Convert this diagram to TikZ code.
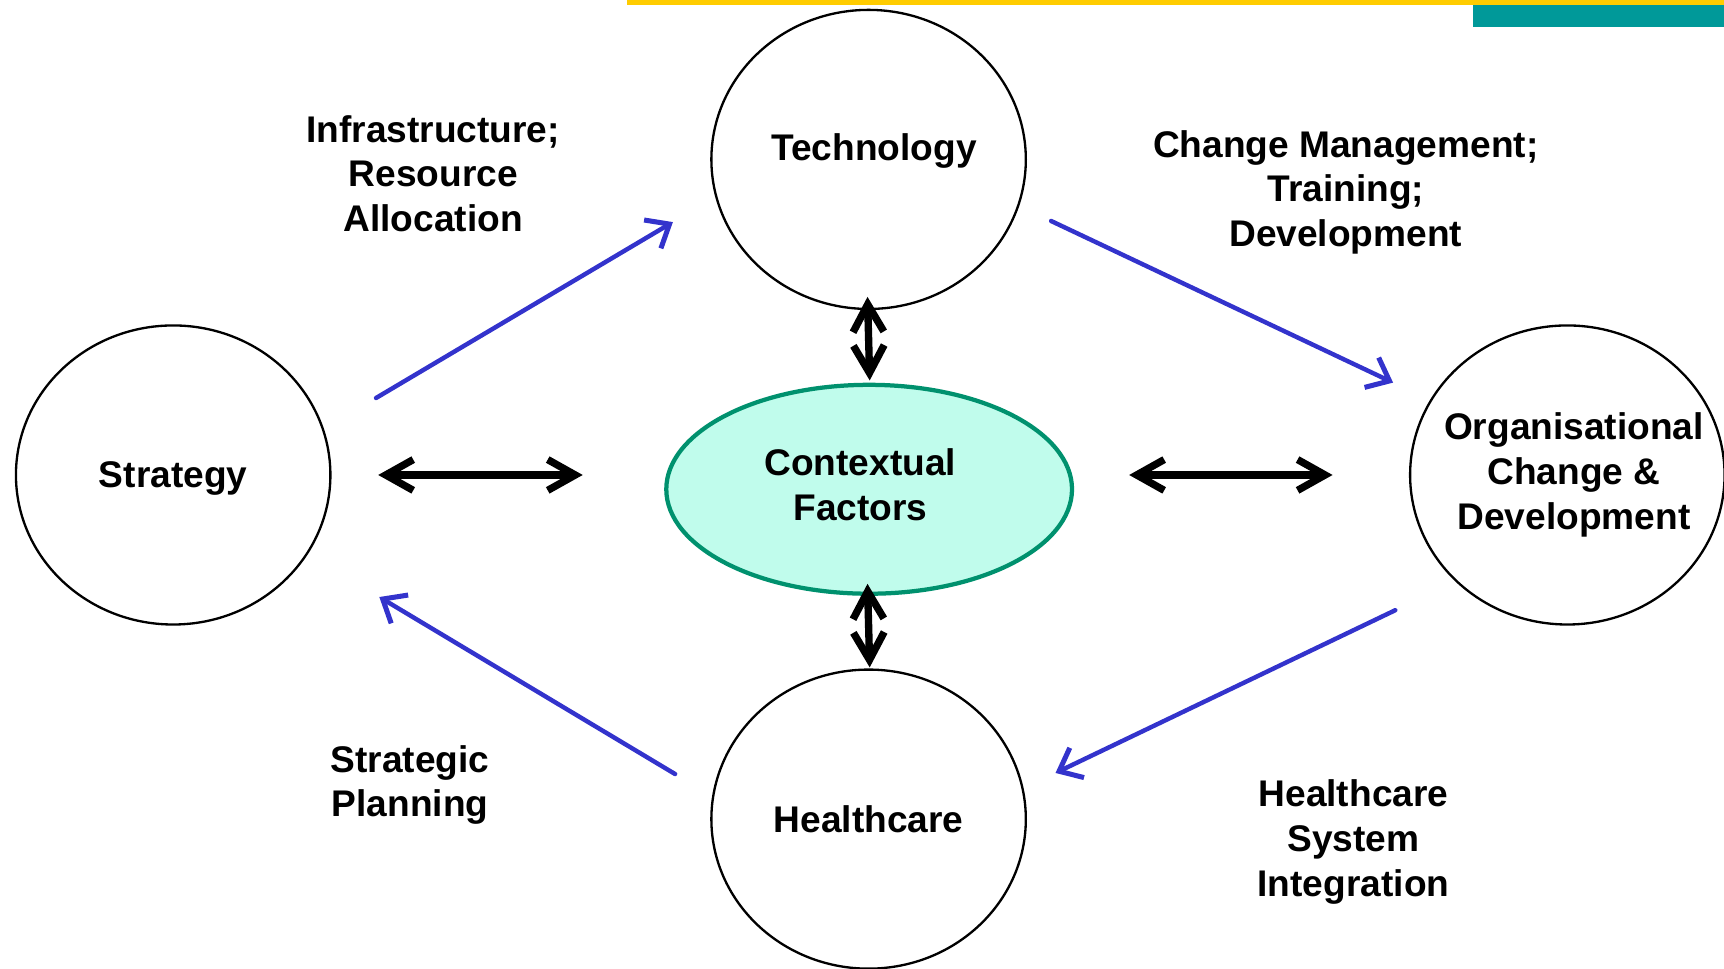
\documentclass[tikz,border=0pt]{standalone}
\usepackage{fontspec}
\setmainfont{Liberation Sans}
\usetikzlibrary{arrows.meta,shapes.geometric}

\definecolor{barYellow}{HTML}{FFCC00}
\definecolor{barTeal}{HTML}{009999}
\definecolor{flowBlue}{HTML}{3333CC}
\definecolor{ctxFill}{HTML}{C0FCEC}
\definecolor{ctxEdge}{HTML}{00916E}

\tikzset{
	txt/.style={align=center, font=\bfseries\fontsize{9.6}{11.6}\selectfont},
	area/.style={ellipse, draw=black, line width=0.6pt, inner sep=0pt, minimum width=2.86cm, minimum height=2.72cm},
	flow/.style={draw=flowBlue, line width=1.15pt, line cap=round, -{Straight Barb[length=1.8mm, width=3.0mm, line width=1.3pt]}},
	link/.style={draw=black, line width=1.9pt, line cap=round, {Straight Barb[length=2.5mm, width=2.8mm]}-{Straight Barb[length=2.5mm, width=2.8mm]}}
}

\begin{document}
\begin{tikzpicture}
			%%%%% START %%%%%
			\useasboundingbox (0, 0) rectangle (15.68, -8.81);
			
			\fill[barYellow] (5.70, 0) rectangle (15.68, -0.045);
			\fill[barTeal] (13.40, -0.045) rectangle (15.68, -0.25);
			
			\node[area, label={[txt, xshift=0.05cm, yshift=0.08cm]center:Technology}] (tech) at (7.90, -1.45) {};
			\node[area, label={[txt, yshift=-0.03cm]center:Strategy}] (strat) at (1.575, -4.32) {};
			\node[area, label={[txt, xshift=0.06cm]center:Organisational\\Change \&\\Development}] (orgch) at (14.255, -4.32) {};
			\node[area, label={[txt]center:Healthcare}] (hcare) at (7.90, -7.45) {};
			\node[ellipse, draw=ctxEdge, fill=ctxFill, line width=1.1pt, inner sep=0pt, minimum width=3.69cm, minimum height=1.90cm, label={[txt, xshift=-0.08cm, yshift=0.04cm]center:Contextual\\Factors}] (ctx) at (7.905, -4.45) {};
			
			\node[txt] (infra) at (3.94, -1.58) {Infrastructure;\\Resource\\Allocation};
			\node[txt] (chmgmt) at (12.24, -1.75) {Change Management;\\Training;\\Development};
			\node[txt] (plan) at (3.73, -7.14) {Strategic\\Planning};
			\node[txt] (integ) at (12.31, -7.66) {Healthcare\\System\\Integration};
			
			\coordinate (s1) at (3.42, -3.62);
			\coordinate (t1) at (6.12, -2.02);
			\coordinate (t2) at (9.56, -2.01);
			\coordinate (o1) at (12.67, -3.48);
			\coordinate (o2) at (12.69, -5.55);
			\coordinate (h1) at (9.60, -7.03);
			\coordinate (h2) at (6.14, -7.04);
			\coordinate (s2) at (3.45, -5.43);
			
			\draw[flow] (s1) -- (t1);
			\draw[flow] (t2) -- (o1);
			\draw[flow] (o2) -- (h1);
			\draw[flow] (h2) -- (s2);
			
			\coordinate (sl) at (3.44, -4.32);
			\coordinate (cl) at (5.30, -4.32);
			\coordinate (cr) at (10.27, -4.32);
			\coordinate (or) at (12.12, -4.32);
			\coordinate (tb) at (7.89, -2.70);
			\coordinate (ct) at (7.91, -3.46);
			\coordinate (cb) at (7.89, -5.31);
			\coordinate (ht) at (7.91, -6.07);
			
			\draw[link] (sl) -- (cl);
			\draw[link] (cr) -- (or);
			\draw[link] (tb) -- (ct);
			\draw[link] (cb) -- (ht);
			%%%%% END %%%%%
\end{tikzpicture}
\end{document}
